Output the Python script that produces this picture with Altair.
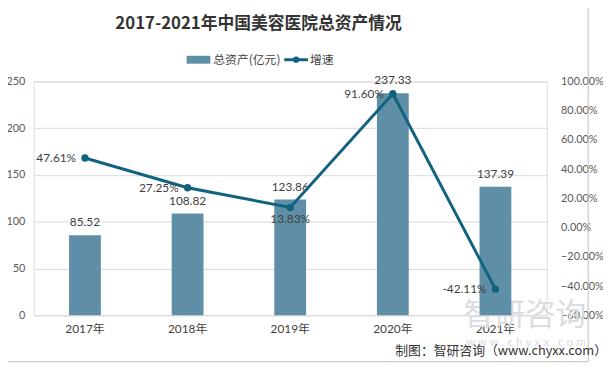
import altair as alt
import pandas as pd

years = ["2017年", "2018年", "2019年", "2020年", "2021年"]
assets = [85.52, 108.82, 123.86, 237.33, 137.39]
growth = [0.4761, 0.2725, 0.1383, 0.9160, -0.4211]
growth_labels = ["47.61%", "27.25%", "13.83%", "91.60%", "-42.11%"]
left_ticks = [0, 50, 100, 150, 200, 250]
right_ticks = [-0.6, -0.4, -0.2, 0.0, 0.2, 0.4, 0.6, 0.8, 1.0]

BAR = "#5e8fa7"
LINE = "#11627f"
FONT = "Lato, 'Noto Sans CJK SC', sans-serif"
CJK = "'Noto Sans CJK SC', sans-serif"

df = pd.DataFrame({"year": years, "assets": assets, "growth": growth, "glabel": growth_labels})

W, H = 520, 237

x = alt.X("year:N", sort=years, title=None,
          scale=alt.Scale(paddingInner=0.69, paddingOuter=0.345),
          axis=alt.Axis(labelAngle=0, domain=False, ticks=False, labelPadding=8,
                        labelFontSize=12, labelColor="#404040", labelFont=FONT))

base = alt.Chart(df)

bars = base.mark_bar(color=BAR).encode(
    x=x,
    y=alt.Y("assets:Q", title=None,
            scale=alt.Scale(domain=[0, 250], nice=False),
            axis=alt.Axis(values=left_ticks, domain=False, ticks=False, labelPadding=9,
                          gridColor="#d9d9d9", labelFontSize=11, labelColor="#595959",
                          labelFont=FONT)),
)
bar_labels = base.mark_text(baseline="bottom", dy=-6, fontSize=12, color="#404040", font=FONT).encode(
    x=x, y="assets:Q", text=alt.Text("assets:Q", format=".2f"))

bar_layer = alt.layer(bars, bar_labels)

gy = alt.Y("growth:Q", title=None,
           scale=alt.Scale(domain=[-0.6, 1.0], nice=False, zero=False),
           axis=alt.Axis(orient="right", values=right_ticks, format=".2%", grid=False,
                         domain=False, ticks=False, labelPadding=14, labelFontSize=11,
                         labelColor="#595959", labelFont=FONT))

line = base.mark_line(color=LINE, strokeWidth=3).encode(x=x, y=gy)
pts = base.mark_point(color=LINE, filled=True, size=55, opacity=1).encode(x=x, y=gy)
left_lab = base.transform_filter(alt.datum.year != "2019年").mark_text(
    align="right", dx=-9, fontSize=12, color="#404040", font=FONT).encode(x=x, y=gy, text="glabel:N")
below_lab = base.transform_filter(alt.datum.year == "2019年").mark_text(
    baseline="top", dy=7, fontSize=12, color="#404040", font=FONT).encode(x=x, y=gy, text="glabel:N")

line_layer = alt.layer(line, pts, left_lab, below_lab)

one = alt.Chart(pd.DataFrame({"k": [0]}))

frame = one.mark_rect(fill=None, stroke="#bfbfbf", strokeWidth=1).encode(
    x=alt.value(-31), x2=alt.value(W + 42), y=alt.value(-78), y2=alt.value(H + 47))
title = one.mark_text(fontSize=17, fontWeight="bold", color="#333333", font=CJK).encode(
    x=alt.value(228), y=alt.value(-58), text=alt.value("2017-2021年中国美容医院总资产情况"))
leg_sw = one.mark_rect(color=BAR).encode(
    x=alt.value(155), x2=alt.value(179), y=alt.value(-26), y2=alt.value(-18))
leg_t1 = one.mark_text(align="left", fontSize=12, color="#404040", font=CJK).encode(
    x=alt.value(182), y=alt.value(-22), text=alt.value("总资产(亿元)"))
leg_ln = one.mark_rule(color=LINE, strokeWidth=3).encode(
    x=alt.value(254), x2=alt.value(278), y=alt.value(-22))
leg_pt = one.mark_point(color=LINE, filled=True, size=40, opacity=1).encode(
    x=alt.value(266), y=alt.value(-22))
leg_t2 = one.mark_text(align="left", fontSize=12, color="#404040", font=CJK).encode(
    x=alt.value(280), y=alt.value(-22), text=alt.value("增速"))
wm1 = one.mark_text(fontSize=31, color="#d9dde1", font=CJK, align="left").encode(
    x=alt.value(436), y=alt.value(238), text=alt.value("智研咨询"))
wm2 = one.mark_text(fontSize=12, color="#d9dde1", font=FONT, align="left").encode(
    x=alt.value(438), y=alt.value(264), text=alt.value("w w w . c h y x x . c o m"))
source = one.mark_text(align="right", fontSize=13, color="#333333", font=CJK).encode(
    x=alt.value(W + 61), y=alt.value(273), text=alt.value("制图：智研咨询（www.chyxx.com）"))

deco = alt.layer(frame, wm1, wm2, title, leg_sw, leg_t1, leg_ln, leg_pt, leg_t2, source)

chart = alt.layer(deco, bar_layer, line_layer).resolve_scale(y="independent").properties(
    width=W, height=H,
    autosize=alt.AutoSizeParams(type="none"),
    padding={"left": 26, "top": 72, "right": 57, "bottom": 53},
).configure_view(stroke=None).configure(background="white")

chart.save("out.html", embed_options={"renderer": "svg", "actions": False})
